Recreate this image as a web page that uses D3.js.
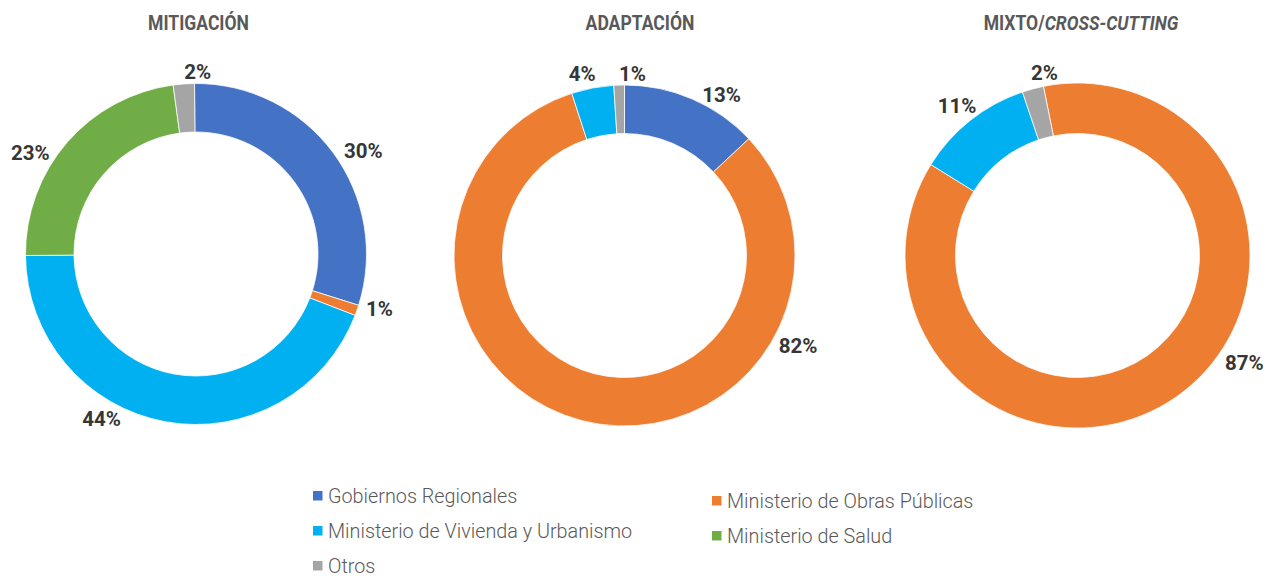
<!DOCTYPE html>
<html>
<head>
<meta charset="utf-8">
<script src="https://cdn.jsdelivr.net/npm/d3@7"></script>
<style>
  body { margin: 0; background: #fff; }
  svg { display: block; font-family: Roboto, "Noto Sans", sans-serif; }
</style>
</head>
<body>
<figure id="donuts" style="margin:0"></figure>
<script>
// categories (legend order = slice order)
const categories = [
  "Gobiernos Regionales",
  "Ministerio de Obras Públicas",
  "Ministerio de Vivienda y Urbanismo",
  "Ministerio de Salud",
  "Otros"
];
const colors = ["#4472C4", "#ED7D31", "#00B0F0", "#70AD47", "#A5A5A5"];

// share (%) per category, one list per chart
const mitigacion = [30, 1, 44, 23, 2];
const adaptacion = [13, 82, 4, 0, 1];
const mixto = [0, 87, 11, 0, 2];

// chart titles: [upright part, italic part]
const titles = [["MITIGACIÓN", ""], ["ADAPTACIÓN", ""], ["MIXTO/", "CROSS-CUTTING"]];

// layout only (no data in here)
const layout = [
  { cx: 196, cy: 254, ro: 170.5, ri: 122, start: -0.5, titleX: 198.5,
    nudge: [4.9, -2.6, 19.5, -9.3, 4.6], dist: [196.6, 191.6, 190, 194.4, 182] },
  { cx: 624.5, cy: 255.5, ro: 170.5, ri: 122, start: 0, titleX: 640,
    nudge: [7.7, -77, -2.3, 0, 4.3], dist: [188, 195.5, 186.3, 0, 181.7] },
  { cx: 1077.5, cy: 255.5, ro: 172.5, ri: 122, start: -11.4, titleX: 1081,
    nudge: [0, -22.5, -0.3, 0, 4.7], dist: [0, 198.2, 192.5, 0, 185.5] }
];
const legendPos = [[313, 495.5], [712, 500.5], [313, 530.5], [712, 535.5], [313, 565.5]];

const width = 1272, height = 577;
const rad = Math.PI / 180;

const svg = d3.select("figure#donuts")
  .append("svg")
  .attr("width", width)
  .attr("height", height);

[mitigacion, adaptacion, mixto].forEach((values, k) => {
  const L = layout[k];
  const s = L.start * rad;

  const pie = d3.pie()
    .sort(null)
    .value(d => d)
    .startAngle(s)
    .endAngle(s + 2 * Math.PI);

  const arc = d3.arc()
    .innerRadius(L.ri)
    .outerRadius(L.ro);

  const g = svg.append("g")
    .attr("transform", `translate(${L.cx},${L.cy})`);

  const slices = pie(values).map((d, i) => Object.assign(d, { idx: i }));

  g.selectAll("path")
    .data(slices.filter(d => d.value > 0))
    .enter()
    .append("path")
      .attr("d", arc)
      .attr("fill", d => colors[d.idx])
      .attr("stroke", "#fff")
      .attr("stroke-width", 0.75);

  // percentage labels outside the ring
  g.selectAll("text.pct")
    .data(slices.filter(d => d.value > 0))
    .enter()
    .append("text")
      .attr("class", "pct")
      .attr("x", d => {
        const a = (d.startAngle + d.endAngle) / 2 + L.nudge[d.idx] * rad;
        return L.dist[d.idx] * Math.sin(a);
      })
      .attr("y", d => {
        const a = (d.startAngle + d.endAngle) / 2 + L.nudge[d.idx] * rad;
        return -L.dist[d.idx] * Math.cos(a);
      })
      .attr("dy", "0.36em")
      .attr("text-anchor", "middle")
      .style("font-size", "20.5px")
      .style("font-weight", 700)
      .style("fill", "#363636")
      .text(d => d.value + "%");

  // title
  const t = svg.append("text")
    .attr("text-anchor", "middle")
    .attr("transform", `translate(${L.titleX},29.5) scale(0.9,1)`)
    .style("font-size", "19.5px")
    .style("font-weight", 700)
    .style("fill", "#595959");
  t.append("tspan").text(titles[k][0]);
  if (titles[k][1]) t.append("tspan").style("font-style", "italic").text(titles[k][1]);
});

// legend
const legend = svg.selectAll("g.legend")
  .data(categories)
  .enter()
  .append("g")
    .attr("class", "legend")
    .attr("transform", (d, i) => `translate(${legendPos[i][0]},${legendPos[i][1]})`);

legend.append("rect")
  .attr("x", 0)
  .attr("y", -4.5)
  .attr("width", 9.5)
  .attr("height", 9.5)
  .attr("fill", (d, i) => colors[i]);

legend.append("text")
  .attr("x", 15)
  .attr("dy", "0.36em")
  .style("font-size", "19.8px")
  .style("font-weight", 300)
  .style("fill", "#595959")
  .text(d => d);
</script>
</body>
</html>
